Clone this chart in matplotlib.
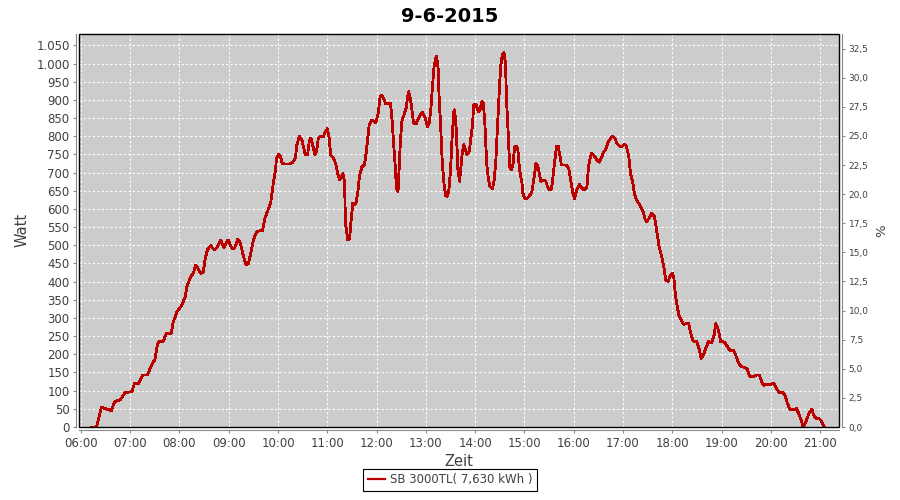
import matplotlib
matplotlib.use("Agg")
import matplotlib.pyplot as plt
from matplotlib.patches import Rectangle
from matplotlib.ticker import FuncFormatter, MultipleLocator

# Zeit in Minuten nach 06:00, Leistung in Watt
minutes = [13, 19, 25, 37, 41, 48, 54, 62, 65, 70, 75, 81, 86, 90, 93, 95, 100, 104, 110, 112,
           117, 123, 127, 129, 133, 137, 140, 143, 146, 149, 151, 154, 158, 162, 165, 170, 174, 179, 184, 187,
           191, 194, 198, 201, 204, 208, 210, 214, 218, 221, 224, 228, 231, 234, 237, 238, 241, 243, 245, 248,
           254, 258, 261, 263, 266, 269, 271, 273, 276, 278, 280, 282, 285, 287, 289, 292, 295, 297, 300, 302,
           304, 307, 310, 313, 315, 319, 321, 322, 325, 327, 329, 331, 333, 335, 337, 339, 342, 345, 347, 349,
           351, 354, 357, 359, 362, 364, 366, 369, 371, 374, 377, 379, 381, 383, 384, 386, 387, 389, 391, 393,
           396, 397, 399, 401, 403, 405, 408, 411, 414, 416, 419, 422, 424, 426, 428, 430, 432, 433, 435, 436,
           438, 440, 442, 444, 446, 448, 450, 452, 454, 455, 457, 459, 461, 462, 464, 466, 468, 470, 473, 475,
           477, 478, 481, 484, 486, 488, 490, 492, 494, 496, 498, 501, 503, 505, 507, 509, 511, 513, 515, 517,
           518, 520, 522, 524, 526, 528, 530, 532, 534, 537, 538, 541, 544, 547, 549, 552, 554, 556, 558, 560,
           563, 566, 568, 570, 573, 575, 577, 579, 581, 583, 585, 588, 591, 594, 597, 599, 601, 603, 607, 610,
           613, 616, 618, 620, 622, 625, 628, 631, 633, 636, 639, 642, 645, 647, 650, 653, 656, 659, 662, 664,
           667, 669, 672, 674, 677, 680, 683, 685, 687, 689, 692, 695, 698, 700, 702, 704, 706, 708, 710, 712,
           715, 718, 720, 722, 724, 726, 728, 731, 734, 737, 740, 742, 745, 747, 750, 753, 755, 758, 760, 764,
           768, 771, 773, 776, 779, 782, 785, 788, 791, 795, 798, 801, 804, 808, 811, 814, 818, 823, 826, 829,
           831, 835, 840, 844, 847, 850, 854, 857, 860, 863, 867, 871, 874, 877, 879, 881, 884, 887, 890, 892,
           895, 898, 900, 903, 905]
watt = [0, 0, 54, 45, 70, 75, 95, 97, 119, 119, 143, 143, 171, 185, 226, 235, 235, 258, 258, 286,
        318, 336, 359, 387, 410, 425, 446, 434, 423, 427, 460, 488, 499, 488, 492, 515, 494, 515, 492, 492,
        517, 506, 469, 446, 450, 492, 515, 538, 540, 540, 575, 598, 616, 667, 708, 740, 751, 745, 726, 724,
        724, 729, 740, 777, 800, 790, 771, 749, 749, 786, 795, 777, 749, 761, 795, 801, 798, 810, 821, 800,
        749, 741, 726, 694, 680, 697, 676, 561, 515, 518, 569, 616, 612, 618, 643, 689, 715, 721, 749, 790,
        832, 845, 841, 838, 864, 905, 914, 901, 890, 890, 890, 841, 771, 708, 657, 648, 689, 790, 845, 856,
        878, 896, 923, 905, 873, 837, 834, 849, 864, 866, 851, 827, 836, 873, 937, 992, 1015, 1021, 985, 912,
        827, 726, 671, 637, 634, 652, 708, 800, 868, 873, 818, 708, 676, 699, 749, 777, 763, 749, 760, 800,
        836, 887, 887, 868, 873, 896, 892, 827, 726, 685, 662, 656, 676, 726, 818, 909, 992, 1024, 1031, 1001,
        909, 818, 717, 708, 721, 771, 773, 763, 708, 671, 643, 628, 630, 639, 648, 689, 726, 721, 699, 676,
        680, 676, 662, 652, 655, 695, 733, 773, 773, 750, 721, 721, 721, 712, 671, 643, 629, 648, 667, 658,
        652, 660, 717, 740, 754, 746, 736, 729, 738, 754, 765, 784, 795, 801, 795, 779, 773, 773, 779, 773,
        746, 699, 671, 639, 624, 612, 598, 589, 571, 565, 576, 589, 580, 557, 525, 497, 479, 460, 437, 405,
        401, 419, 423, 410, 359, 332, 309, 294, 282, 285, 285, 262, 239, 235, 235, 212, 189, 198, 212, 235,
        232, 253, 285, 268, 235, 235, 230, 217, 210, 210, 193, 175, 166, 164, 161, 140, 138, 143, 143, 124,
        115, 117, 118, 120, 106, 95, 95, 88, 67, 49, 47, 51, 37, 18, 2, 5, 23, 41, 49, 34,
        23, 23, 21, 10, 0]

title = "9-6-2015"
series_name = "SB 3000TL( 7,630 kWh )"

text_col = "#404040"
axis_col = "#888888"

fig = plt.figure(figsize=(9, 5), dpi=100)
ax = fig.add_axes([79.3 / 900, 1 - 427 / 500, (839 - 79.3) / 900, (427 - 33.5) / 500])
ax.set_facecolor("#CCCCCC")

line, = ax.plot(minutes, watt, color="#BB0000", lw=1.3, zorder=3, antialiased=False)

ax.set_xlim(-2, 923)
ax.set_ylim(0, 1083)
ax.xaxis.set_major_locator(MultipleLocator(60))
ax.xaxis.set_major_formatter(FuncFormatter(lambda v, p: "%02d:%02d" % (6 + int(v) // 60, int(v) % 60)))
ax.yaxis.set_major_locator(MultipleLocator(50))
ax.yaxis.set_major_formatter(FuncFormatter(lambda v, p: f"{int(v):,}".replace(",", ".")))

ax.grid(True, color="white", linestyle=(0, (2, 2)), linewidth=0.8)
ax.set_axisbelow(True)

for s in ["top", "right"]:
    ax.spines[s].set_visible(False)
for s in ["left", "bottom"]:
    ax.spines[s].set_position(("outward", 2.5))
    ax.spines[s].set_color(axis_col)
ax.tick_params(axis="both", length=2.5, color=axis_col, labelcolor=text_col, labelsize=8.5, pad=2)

ax.add_patch(Rectangle((0, 0), 1, 1, transform=ax.transAxes, fill=False,
                       edgecolor="black", lw=1, zorder=5, clip_on=False))

ax.set_xlabel("Zeit", fontsize=10.5, color=text_col, labelpad=3)
ax.set_ylabel("Watt", fontsize=10.5, color=text_col, labelpad=5)

ax2 = ax.twinx()
ax2.set_ylim(0, 33.8)
ax2.yaxis.set_major_locator(MultipleLocator(2.5))
ax2.yaxis.set_major_formatter(FuncFormatter(lambda v, p: f"{v:.1f}".replace(".", ",")))
for s in ["top", "left", "bottom"]:
    ax2.spines[s].set_visible(False)
ax2.spines["right"].set_position(("outward", 2.5))
ax2.spines["right"].set_color(axis_col)
ax2.tick_params(axis="y", length=2.5, color=axis_col, labelcolor=text_col, labelsize=6.5, pad=2)
ax2.set_ylabel("%", fontsize=9.5, color=text_col, labelpad=5)

fig.suptitle(title, fontsize=14, fontweight="bold", y=0.985)

leg = fig.legend([line], [series_name], loc="lower center", bbox_to_anchor=(0.5, 0.006),
                 fontsize=8.5, fancybox=False, framealpha=1, edgecolor="black",
                 handlelength=1.5, handletextpad=0.4, borderpad=0.4)
leg.get_frame().set_linewidth(0.8)
leg.get_lines()[0].set_antialiased(True)
leg.get_lines()[0].set_linewidth(1.6)
for t in leg.get_texts():
    t.set_color(text_col)

fig.savefig("out.png", dpi=100)
